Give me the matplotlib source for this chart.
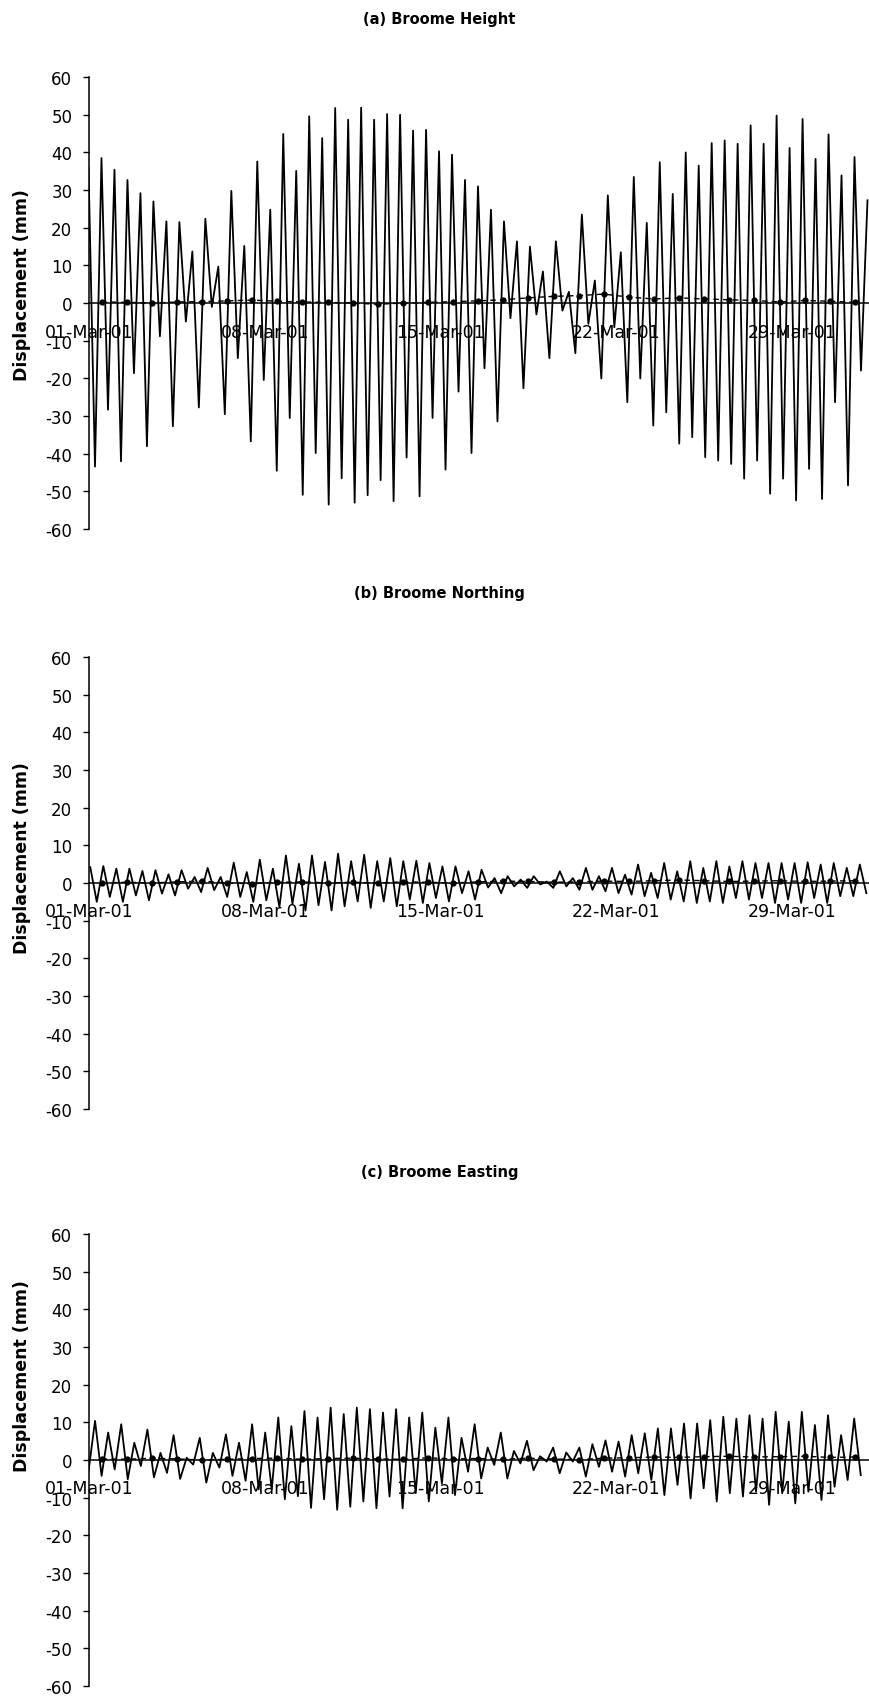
import numpy as np
import matplotlib.pyplot as plt
import matplotlib.dates as mdates
from datetime import datetime

plt.rcParams['font.family'] = ['DejaVu Sans']
plt.rcParams['axes.unicode_minus'] = False

# tide extremes (mm), alternating high/low
height_mm = [36, -43.4, 38.5, -28.3, 35.4, -42, 32.7, -18.6, 29.2, -38, 27, -8.8,
             21.7, -32.7, 21.5, -4.9, 13.7, -27.7, 22.4, -1, 9.7, -29.5, 29.8, -14.6,
             15.2, -36.7, 37.6, -20.4, 24.8, -44.5, 44.9, -30.5, 35.1, -50.9, 49.6, -39.8,
             43.8, -53.5, 51.8, -46.5, 48.7, -53, 51.9, -51, 48.7, -47, 50.2, -52.6,
             50, -41, 45.8, -51.3, 46, -30.5, 40.3, -44.2, 39.4, -23.5, 32.7, -39.8,
             31, -17.3, 24.8, -31.4, 21.7, -4, 16.4, -22.6, 15, -3, 8.4, -14.6,
             16.4, -2, 3, -13.3, 23.5, -5.5, 6, -20, 28.6, -6.4, 13.5, -26.3,
             33.5, -20, 21.3, -32.5, 37.4, -29, 29, -37.3, 40, -35.6, 36.5, -40.9,
             42.5, -41.8, 43.2, -42.7, 42.3, -46.6, 47.2, -41.8, 42.3, -50.6, 49.8, -46.6,
             41.2, -52.4, 48.9, -44, 38.3, -52, 44.8, -26.3, 33.9, -48.4, 38.8, -17.9,
             27.3]
northing_mm = [4.2, -5, 4.5, -3.7, 3.8, -5, 3.8, -3.3, 3.2, -4.6, 3.4, -2.8,
               2.3, -3.3, 3.4, -1.5, 1.6, -2.4, 4.0, -1.9, 1.6, -3.7, 5.4, -3.7,
               2.9, -5, 6.2, -4.6, 3.8, -6.4, 7.3, -5.5, 5.1, -7.3, 7.3, -5.9,
               5.6, -7.3, 7.8, -6.2, 5.8, -4.9, 7.5, -6.6, 5.8, -4.9, 6.6, -6.2,
               5.8, -4.4, 5.9, -5.3, 5.3, -4, 4.4, -4.9, 4.4, -2.7, 3.1, -4.4,
               3.5, -1.2, 1.3, -2.7, 1.8, -0.9, 0.9, -1.3, 1.8, -0.4, 0.4, -1.3,
               3.1, -0.9, 1.3, -1.8, 4, -1.8, 1.8, -2.2, 4, -2.7, 2.2, -3.1,
               4.9, -3.5, 2.7, -4, 5.3, -4.4, 3.1, -4.9, 5.8, -5.3, 4, -4.9,
               5.8, -5.3, 4.4, -4, 5.8, -4.4, 5.3, -4, 5.3, -5.3, 5.3, -4.4,
               5.3, -5.3, 5.5, -4, 4.9, -5.3, 5.3, -3.5, 4, -3.5, 4.9, -2.7]
easting_mm = [-3, 10.4, -4.2, 7.3, -2.5, 9.5, -5.1, 4.6, -1.6, 8.1, -4.6, 1.9,
              -3.4, 6.6, -5, 0.6, -1.2, 5.9, -6, 1.9, -2, 6.8, -4.2, 4.6,
              -5.5, 9.5, -7.8, 7.3, -7.8, 11.3, -10.4, 9, -9.6, 13, -12.7, 11.3,
              -10.4, 13.9, -13.2, 12.2, -12.4, 13.9, -11, 13.5, -12.8, 12.6, -9.7, 13.5,
              -12.8, 11.3, -8.8, 12.6, -11, 8.6, -6.2, 11.3, -9.3, 5.9, -3.1, 9.5,
              -4.9, 3.3, -1.3, 7.3, -4.9, 2.4, -0.9, 5.1, -2.7, 1, -0.4, 3.3,
              -3.5, 2, -0.4, 3.3, -4.4, 4.2, -1.8, 5.2, -3.1, 4.9, -4.4, 6.6,
              -3.5, 7.1, -5.3, 8.4, -9.3, 8.4, -6.6, 9.7, -10.2, 9.7, -7.5, 10.6,
              -11, 11.5, -8.8, 11, -9.7, 11.9, -8.4, 11, -11.9, 12.8, -8.8, 10.2,
              -11.5, 12.8, -8.4, 9.3, -10.6, 11.9, -7.1, 6.6, -5.3, 11, -4]

# daily means (mm), one per day at noon
height_daily = [0.3, 0.2, 0, 0.3, 0.4, 0.6, 0.8, 0.5, 0.3, 0.2, 0, -0.3, 0, 0.2, 0.4, 0.6,
                0.9, 1.4, 1.8, 2.0, 2.4, 1.6, 1.1, 1.4, 1.1, 0.9, 0.7, 0.3, 0.7, 0.5, 0.2]
northing_daily = [0, 0.2, 0, 0.3, 0.5, 0, -0.2, 0.2, 0.3, 0, 0.2, 0, 0.3, 0.2, 0, 0.3,
                  0.5, 0.4, 0.2, 0.3, 0.5, 0.4, 0.6, 0.8, 0.6, 0.4, 0.5, 0.6, 0.4, 0.5, 0.6]
easting_daily = [0.3, 0.2, 0.5, 0.3, 0, 0.2, 0.4, 0.5, 0.2, 0.4, 0.5, 0.3, 0.2, 0.6, 0.3, 0.4,
                 0.2, 0.5, 0.3, 0.1, 0.5, 0.6, 0.8, 0.7, 0.9, 1.0, 0.8, 0.9, 1.0, 0.7, 0.8]

# (first extreme in days after 1 Mar, half tidal cycle in days)
height_grid = (-0.02, 0.2585)
northing_grid = (0.05, 0.2597)
easting_grid = (-0.02, 0.2606)

titles = ['(a) Broome Height', '(b) Broome Northing', '(c) Broome Easting']
tick_days = [1, 8, 15, 22, 29]

start = mdates.date2num(datetime(2001, 3, 1))

fig = plt.figure(figsize=(8.7, 16.99), dpi=100)

panels = [
    (height_mm, height_grid, height_daily, 0.6880, 0.9888, 0.8323),
    (northing_mm, northing_grid, northing_daily, 0.3467, 0.6504, 0.495),
    (easting_mm, easting_grid, easting_daily, 0.00706, 0.3096, 0.19),
]

for i, (vals, grid, daily, bot, ty, ly) in enumerate(panels):
    ax = fig.add_axes([0.1023, bot, 0.8977, 0.266])
    t = start + grid[0] + grid[1] * np.arange(len(vals))
    ax.plot(t, vals, color='black', lw=1.3)
    td = start + 0.5 + np.arange(len(daily))
    ax.plot(td, daily, color='black', lw=1.0, ls=(0, (4, 3)),
            marker='o', ms=3.5, mfc='black', mec='black')

    ax.set_xlim(start, start + 31.1)
    ax.set_ylim(-60, 60)
    ax.set_yticks(np.arange(-60, 61, 10))
    ax.set_yticklabels([str(v) for v in range(-60, 61, 10)])

    ax.set_xticks([mdates.date2num(datetime(2001, 3, d)) for d in tick_days])
    ax.xaxis.set_major_formatter(mdates.DateFormatter('%d-%b-%y'))

    for s in ['top', 'right']:
        ax.spines[s].set_visible(False)
    ax.spines['bottom'].set_position(('data', 0))
    ax.spines['bottom'].set_linewidth(1.1)
    ax.spines['left'].set_linewidth(1.1)

    ax.tick_params(axis='y', direction='out', length=4, width=1, pad=8, labelsize=12)
    ax.tick_params(axis='x', length=0, pad=14, labelsize=12.5)
    ax.patch.set_visible(False)

    fig.text(0.505, ty, titles[i], ha='center', va='center',
             fontsize=10.5, fontweight='bold')
    fig.text(0.0253, ly, 'Displacement (mm)', ha='center', va='center',
             rotation=90, fontsize=12.5, fontweight='bold')

fig.savefig('out.png', dpi=100)
